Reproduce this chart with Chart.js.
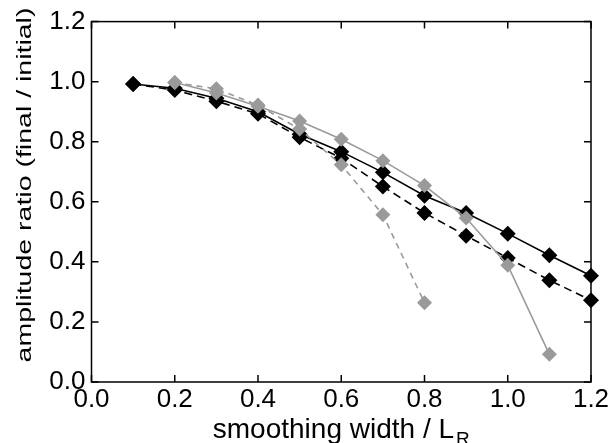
<!DOCTYPE html>
<html>
<head>
<meta charset="utf-8">
<script src="https://cdn.jsdelivr.net/npm/chart.js@4"></script>
<style>
html,body{margin:0;padding:0;background:#fff}
#wrap{width:612px;height:443px;position:relative}
</style>
</head>
<body>
<div id="wrap"><canvas id="c"></canvas></div>
<script>
// smoothing width / L_R
const xBlack = [0.1, 0.2, 0.3, 0.4, 0.5, 0.6, 0.7, 0.8, 0.9, 1.0, 1.1, 1.2];
const blackSolid = [0.992, 0.978, 0.945, 0.900, 0.825, 0.767, 0.698, 0.620, 0.563, 0.494, 0.422, 0.354];
const blackDashed = [0.992, 0.972, 0.935, 0.893, 0.815, 0.745, 0.651, 0.563, 0.487, 0.413, 0.339, 0.272];
const xGraySolid = [0.2, 0.3, 0.4, 0.5, 0.6, 0.7, 0.8, 0.9, 1.0, 1.1];
const graySolid = [0.997, 0.962, 0.918, 0.869, 0.808, 0.737, 0.654, 0.546, 0.389, 0.092];
const xGrayDashed = [0.2, 0.3, 0.4, 0.5, 0.6, 0.7, 0.8];
const grayDashed = [0.997, 0.976, 0.922, 0.842, 0.723, 0.557, 0.264];
const tickVals = [0, 0.2, 0.4, 0.6, 0.8, 1.0, 1.2];

const xTitle = 'smoothing width / L';
const xTitleSub = 'R';
const yTitle = 'amplitude ratio (final / initial)';

const FONT = 'Liberation Sans, Arial, Helvetica, sans-serif';
const GRAY = '#9a9a9a';

function pts(xs, ys){ return xs.map((x,i)=>({x:x, y:ys[i]})); }

function line(label, xs, ys, color, dash, r){
  return {
    label: label, data: pts(xs, ys),
    borderColor: color, backgroundColor: color,
    borderWidth: 1.6, borderDash: dash, clip: false,
    pointStyle: 'rectRot', pointRadius: r, pointBorderWidth: 0,
    pointBackgroundColor: color, tension: 0
  };
}

// frame, inward ticks and axis titles
const decor = {
  id: 'decor',
  beforeDatasetsDraw(chart){
    const ctx = chart.ctx, a = chart.chartArea;
    const xs = chart.scales.x, ys = chart.scales.y;
    ctx.save();
    ctx.strokeStyle = '#000';
    ctx.lineWidth = 1.5;
    ctx.strokeRect(a.left, a.top, a.right - a.left, a.bottom - a.top);
    ctx.beginPath();
    tickVals.forEach(v=>{
      const px = xs.getPixelForValue(v);
      ctx.moveTo(px, a.bottom); ctx.lineTo(px, a.bottom - 7);
      ctx.moveTo(px, a.top); ctx.lineTo(px, a.top + 7);
      const py = ys.getPixelForValue(v);
      ctx.moveTo(a.left, py); ctx.lineTo(a.left + 7, py);
      ctx.moveTo(a.right, py); ctx.lineTo(a.right - 7, py);
    });
    ctx.stroke();
    ctx.restore();
  },
  afterDraw(chart){
    const ctx = chart.ctx, a = chart.chartArea;
    ctx.save();
    ctx.fillStyle = '#000';
    // x title with subscript
    ctx.font = '28px ' + FONT;
    const w1 = ctx.measureText(xTitle).width;
    ctx.font = '19px ' + FONT;
    const w2 = ctx.measureText(xTitleSub).width;
    let sx = (a.left + a.right) / 2 - (w1 + w2 + 2) / 2;
    ctx.textBaseline = 'alphabetic';
    ctx.textAlign = 'left';
    ctx.font = '28px ' + FONT;
    ctx.fillText(xTitle, sx, 437.5);
    ctx.font = '19px ' + FONT;
    ctx.fillText(xTitleSub, sx + w1 + 2, 445);
    // y title, rotated and condensed
    ctx.translate(31, 185);
    ctx.rotate(-Math.PI / 2);
    ctx.scale(1, 0.68);
    ctx.font = '28.5px ' + FONT;
    ctx.textAlign = 'center';
    ctx.fillText(yTitle, 0, 0);
    ctx.restore();
  }
};

new Chart(document.getElementById('c'), {
  type: 'line',
  data: {
    datasets: [
      line('gray solid', xGraySolid, graySolid, GRAY, [], 7.5),
      line('gray dashed', xGrayDashed, grayDashed, GRAY, [6, 5], 7.5),
      line('black solid', xBlack, blackSolid, '#000', [], 8),
      line('black dashed', xBlack, blackDashed, '#000', [8, 5], 8)
    ]
  },
  options: {
    responsive: true, maintainAspectRatio: false, animation: false,
    layout: { padding: { left: 0, right: 21, top: 19.5, bottom: 0 } },
    plugins: { legend: { display: false }, tooltip: { enabled: false } },
    elements: { line: { fill: false } },
    scales: {
      x: {
        type: 'linear', min: 0, max: 1.2,
        afterFit: s => { s.height = 61; },
        afterBuildTicks: s => { s.ticks = tickVals.map(v=>({value:v})); },
        grid: { drawOnChartArea: false, drawTicks: false },
        border: { display: false },
        ticks: { padding: 2, color: '#000', font: { family: FONT, size: 26 },
                 maxRotation: 0, autoSkip: false, callback: v => v.toFixed(1) }
      },
      y: {
        type: 'linear', min: 0, max: 1.2,
        afterFit: s => { s.width = 91.5; },
        afterBuildTicks: s => { s.ticks = tickVals.map(v=>({value:v})); },
        grid: { drawOnChartArea: false, drawTicks: false },
        border: { display: false },
        ticks: { padding: 6, color: '#000', font: { family: FONT, size: 26 },
                 autoSkip: false, callback: v => v.toFixed(1) }
      }
    }
  },
  plugins: [decor]
});
</script>
</body>
</html>
